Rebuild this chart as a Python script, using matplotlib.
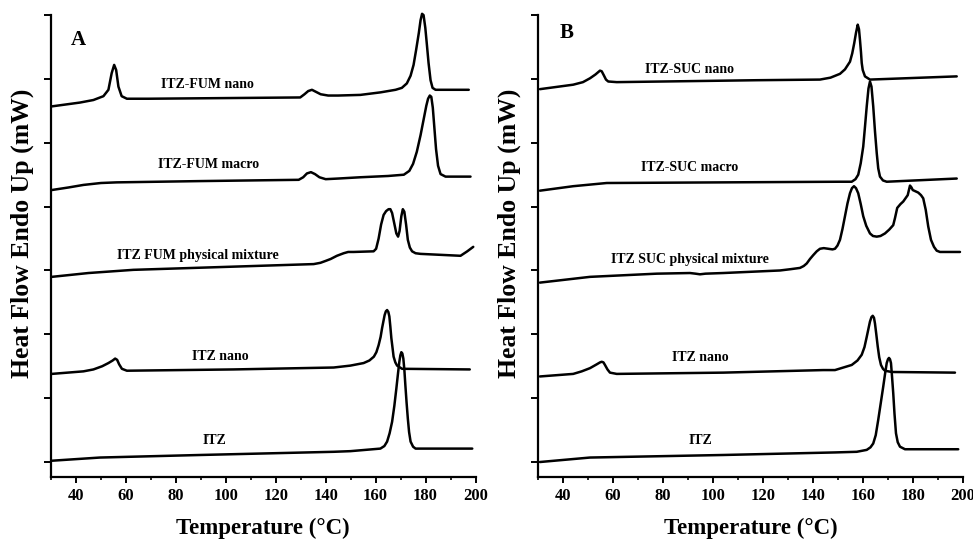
import matplotlib
matplotlib.use("Agg")
import matplotlib.pyplot as plt
from matplotlib.ticker import MultipleLocator, NullFormatter

plt.rcParams['font.family'] = 'Liberation Serif'
plt.rcParams['font.weight'] = 'bold'

# --- Panel A: ITZ / fumaric acid thermograms (temperature in C, heat flow in offset units) ---
fum_nano_t = [30.3, 41.6, 47.0, 51.0, 53.0, 54.3, 55.3, 56.1, 57.0, 58.3, 60.4, 69.0, 129.8, 131.5,
              133.0, 134.5, 136.0, 138.0, 141.0, 145.0, 153.9, 162.0, 168.0, 170.5, 172.5, 174.0,
              175.2, 176.2, 177.3, 178.0, 178.6, 179.2, 179.9, 180.5, 181.2, 182.0, 182.8, 184.0, 197.3]
fum_nano_hf = [5.57, 5.63, 5.67, 5.73, 5.83, 6.09, 6.22, 6.14, 5.88, 5.73, 5.69, 5.69, 5.71, 5.76,
               5.81, 5.83, 5.80, 5.76, 5.74, 5.74, 5.75, 5.79, 5.83, 5.86, 5.93, 6.05,
               6.22, 6.45, 6.72, 6.92, 7.02, 7.00, 6.80, 6.55, 6.25, 5.98, 5.86, 5.83, 5.83]

fum_macro_t = [30.3, 37.0, 43.0, 50.0, 56.3, 89.7, 129.2, 131.0, 132.5, 134.1, 135.7, 137.5, 140.0,
               145.0, 153.9, 165.0, 171.3, 173.5, 175.0, 176.5, 178.0, 179.3, 180.3, 181.0, 181.7,
               182.3, 182.9, 183.5, 184.2, 185.0, 186.0, 188.0, 198.0]
fum_macro_hf = [4.26, 4.30, 4.34, 4.37, 4.38, 4.40, 4.42, 4.46, 4.52, 4.54, 4.51, 4.46, 4.43,
                4.44, 4.46, 4.48, 4.50, 4.56, 4.67, 4.86, 5.12, 5.38, 5.58, 5.69, 5.74,
                5.72, 5.55, 5.25, 4.90, 4.64, 4.51, 4.47, 4.47]

fum_pm_t = [30.3, 45.0, 63.0, 103.1, 135.2, 137.9, 140.0, 142.0, 144.5, 147.2, 149.0, 151.2, 159.2,
            160.2, 161.2, 162.2, 163.2, 164.2, 165.2, 165.9, 166.6, 167.4, 168.3, 169.0, 169.6,
            170.3, 170.9, 171.5, 172.2, 172.9, 173.7, 174.6, 176.0, 178.0, 194.0, 196.7, 199.1]
fum_pm_hf = [2.90, 2.96, 3.01, 3.06, 3.10, 3.12, 3.15, 3.18, 3.23, 3.27, 3.29, 3.29, 3.30,
             3.34, 3.50, 3.72, 3.87, 3.93, 3.96, 3.96, 3.90, 3.75, 3.58, 3.53, 3.62,
             3.85, 3.96, 3.92, 3.72, 3.48, 3.36, 3.30, 3.27, 3.26, 3.23, 3.30, 3.37]

itz_nano_a_t = [30.3, 43.0, 47.0, 50.5, 53.0, 54.7, 55.7, 56.5, 57.3, 58.4, 60.4, 103.1, 143.2,
                149.9, 155.2, 157.5, 159.3, 160.3, 161.2, 162.0, 162.6, 163.2, 163.6, 164.1, 164.6,
                165.1, 165.5, 165.9, 166.3, 166.8, 167.2, 167.9, 168.6, 170.6, 197.7]
itz_nano_a_hf = [1.38, 1.42, 1.45, 1.50, 1.55, 1.59, 1.62, 1.60, 1.53, 1.46, 1.43, 1.45, 1.48,
                 1.51, 1.55, 1.59, 1.65, 1.72, 1.83, 1.96, 2.10, 2.22, 2.30, 2.36, 2.38,
                 2.35, 2.28, 2.12, 1.94, 1.78, 1.65, 1.56, 1.51, 1.46, 1.45]

itz_a_t = [30.3, 49.6, 89.7, 143.2, 149.9, 161.9, 163.5, 164.6, 165.6, 166.6, 167.5, 168.3, 169.0,
           169.5, 169.9, 170.3, 170.7, 171.1, 171.5, 171.9, 172.4, 172.9, 173.4, 174.0, 175.0,
           176.0, 198.7]
itz_a_hf = [0.02, 0.07, 0.11, 0.16, 0.17, 0.21, 0.25, 0.32, 0.45, 0.63, 0.88, 1.15, 1.40,
            1.57, 1.67, 1.72, 1.70, 1.62, 1.45, 1.21, 0.93, 0.68, 0.47, 0.32, 0.24,
            0.21, 0.21]

# --- Panel B: ITZ / succinic acid thermograms ---
suc_nano_t = [30.8, 44.1, 48.0, 50.8, 53.0, 54.2, 54.8, 55.5, 56.3, 57.2, 58.1, 61.5, 117.5, 142.8,
              147.0, 150.8, 152.8, 154.8, 155.7, 156.5, 157.2, 157.9, 158.4, 158.8, 159.2, 159.5,
              159.9, 160.8, 162.8, 197.5]
suc_nano_hf = [5.84, 5.91, 5.95, 6.01, 6.07, 6.11, 6.13, 6.12, 6.06, 5.99, 5.96, 5.95, 5.98, 5.99,
               6.02, 6.08, 6.15, 6.27, 6.40, 6.56, 6.72, 6.85, 6.78, 6.61, 6.42, 6.25,
               6.14, 6.04, 5.99, 6.04]

suc_macro_t = [30.8, 44.1, 57.5, 104.1, 150.8, 155.5, 157.0, 158.1, 159.1, 160.1, 160.8, 161.5,
               162.2, 162.8, 163.4, 164.1, 164.8, 165.5, 166.1, 166.8, 168.0, 169.5, 197.5]
suc_macro_hf = [4.25, 4.32, 4.37, 4.38, 4.39, 4.39, 4.43, 4.50, 4.68, 4.94, 5.25, 5.57,
                5.85, 5.96, 5.88, 5.57, 5.18, 4.84, 4.60, 4.47, 4.41, 4.39, 4.44]

suc_pm_t = [30.8, 50.8, 77.5, 90.8, 93.0, 94.8, 97.0, 104.1, 126.8, 131.0, 134.8, 136.3, 137.5,
            138.8, 140.1, 141.5, 142.8, 144.3, 146.1, 147.8, 148.8, 149.8, 150.8, 151.8, 152.8,
            153.8, 154.8, 155.6, 156.4, 157.2, 158.1, 159.1, 160.1, 161.3, 162.8, 164.0, 165.5,
            167.0, 168.8, 170.5, 172.1, 172.8, 173.7, 175.0, 176.1, 177.9, 178.8, 179.4, 179.9,
            181.0, 182.1, 183.2, 184.1, 185.1, 186.1, 187.2, 188.4, 189.5, 190.8, 198.8]
suc_pm_hf = [2.81, 2.90, 2.95, 2.96, 2.95, 2.94, 2.95, 2.96, 3.00, 3.02, 3.04, 3.07, 3.11,
             3.18, 3.24, 3.30, 3.34, 3.35, 3.34, 3.33, 3.34, 3.39, 3.48, 3.65, 3.85,
             4.05, 4.21, 4.29, 4.32, 4.29, 4.21, 4.04, 3.85, 3.70, 3.58, 3.54, 3.53,
             3.54, 3.58, 3.64, 3.71, 3.82, 3.98, 4.04, 4.08, 4.18, 4.33, 4.30, 4.26,
             4.24, 4.22, 4.18, 4.13, 3.95, 3.69, 3.48, 3.37, 3.31, 3.29, 3.29]

itz_nano_b_t = [30.8, 44.1, 47.5, 50.8, 53.5, 54.8, 55.5, 56.2, 56.8, 57.8, 58.8, 61.5, 104.1, 144.1,
                148.8, 155.5, 157.8, 159.5, 160.6, 161.5, 162.2, 162.8, 163.4, 163.9, 164.4, 164.8,
                165.3, 165.9, 166.5, 167.2, 168.0, 168.8, 171.5, 196.8]
itz_nano_b_hf = [1.34, 1.38, 1.42, 1.47, 1.53, 1.56, 1.57, 1.56, 1.52, 1.45, 1.40, 1.38, 1.40, 1.44,
                 1.44, 1.52, 1.59, 1.68, 1.80, 1.96, 2.09, 2.20, 2.27, 2.29, 2.26, 2.17,
                 2.01, 1.81, 1.64, 1.52, 1.46, 1.43, 1.41, 1.40]

itz_b_t = [30.8, 50.8, 104.1, 148.8, 157.5, 161.5, 163.0, 164.1, 165.1, 166.1, 167.1, 168.1, 168.9,
           169.5, 170.0, 170.4, 170.8, 171.2, 171.6, 172.1, 172.6, 173.2, 173.9, 174.8, 176.8, 198.1]
itz_b_hf = [0.00, 0.07, 0.11, 0.15, 0.16, 0.19, 0.23, 0.29, 0.42, 0.66, 0.92, 1.18, 1.40,
            1.55, 1.61, 1.63, 1.61, 1.55, 1.35, 1.08, 0.76, 0.45, 0.31, 0.24, 0.20, 0.20]

labels_a = ['ITZ-FUM nano', 'ITZ-FUM macro', 'ITZ FUM physical mixture', 'ITZ nano', 'ITZ']
label_pos_a = [(92.6, 5.91), (93.0, 4.66), (88.9, 3.23), (97.8, 1.65), (95.4, 0.33)]
labels_b = ['ITZ-SUC nano', 'ITZ-SUC macro', 'ITZ SUC physical mixture', 'ITZ nano', 'ITZ']
label_pos_b = [(90.8, 6.14), (90.8, 4.62), (90.8, 3.17), (94.8, 1.63), (94.8, 0.33)]

curves_a = [(fum_nano_t, fum_nano_hf), (fum_macro_t, fum_macro_hf), (fum_pm_t, fum_pm_hf),
            (itz_nano_a_t, itz_nano_a_hf), (itz_a_t, itz_a_hf)]
curves_b = [(suc_nano_t, suc_nano_hf), (suc_macro_t, suc_macro_hf), (suc_pm_t, suc_pm_hf),
            (itz_nano_b_t, itz_nano_b_hf), (itz_b_t, itz_b_hf)]

fig = plt.figure(figsize=(9.73, 5.39), dpi=100)
ax_a = fig.add_axes([0.0524, 0.115, 0.4363, 0.857])
ax_b = fig.add_axes([0.5529, 0.115, 0.4368, 0.857])


def draw_panel(ax, curves, labels, label_pos, tag, tag_pos):
    for (t, hf) in curves:
        ax.plot(t, hf, color='black', lw=1.8, clip_on=False,
                solid_joinstyle='round', solid_capstyle='round')
    for text, (x, y) in zip(labels, label_pos):
        ax.text(x, y, text, ha='center', va='center', fontsize=10, fontweight='bold')
    ax.text(tag_pos[0], tag_pos[1], tag, ha='center', va='center', fontsize=15, fontweight='bold')

    ax.set_xlim(30, 200)
    ax.set_ylim(-0.235, 7)
    ax.xaxis.set_minor_locator(MultipleLocator(10))
    ax.yaxis.set_major_locator(MultipleLocator(1))
    ax.yaxis.set_major_formatter(NullFormatter())
    ax.set_xticks(range(40, 201, 20))
    for side in ['top', 'right']:
        ax.spines[side].set_visible(False)
    for side in ['left', 'bottom']:
        ax.spines[side].set_linewidth(1.6)
    ax.tick_params(axis='x', which='major', direction='out', length=4, width=1.4, labelsize=12, pad=4)
    ax.tick_params(axis='x', which='minor', direction='out', length=2.5, width=1.2)
    ax.tick_params(axis='y', which='major', direction='out', length=5, width=1.4)
    for lbl in ax.get_xticklabels():
        lbl.set_fontweight('bold')
    ax.set_xlabel('Temperature (°C)', fontsize=16.5, fontweight='bold', labelpad=10)
    ax.set_ylabel('Heat Flow Endo Up (mW)', fontsize=18.5, fontweight='bold')
    ax.yaxis.set_label_coords(-0.04, 0.527)


draw_panel(ax_a, curves_a, labels_a, label_pos_a, 'A', (40.8, 6.61))
draw_panel(ax_b, curves_b, labels_b, label_pos_b, 'B', (41.6, 6.72))

fig.savefig('out.png', dpi=100)
